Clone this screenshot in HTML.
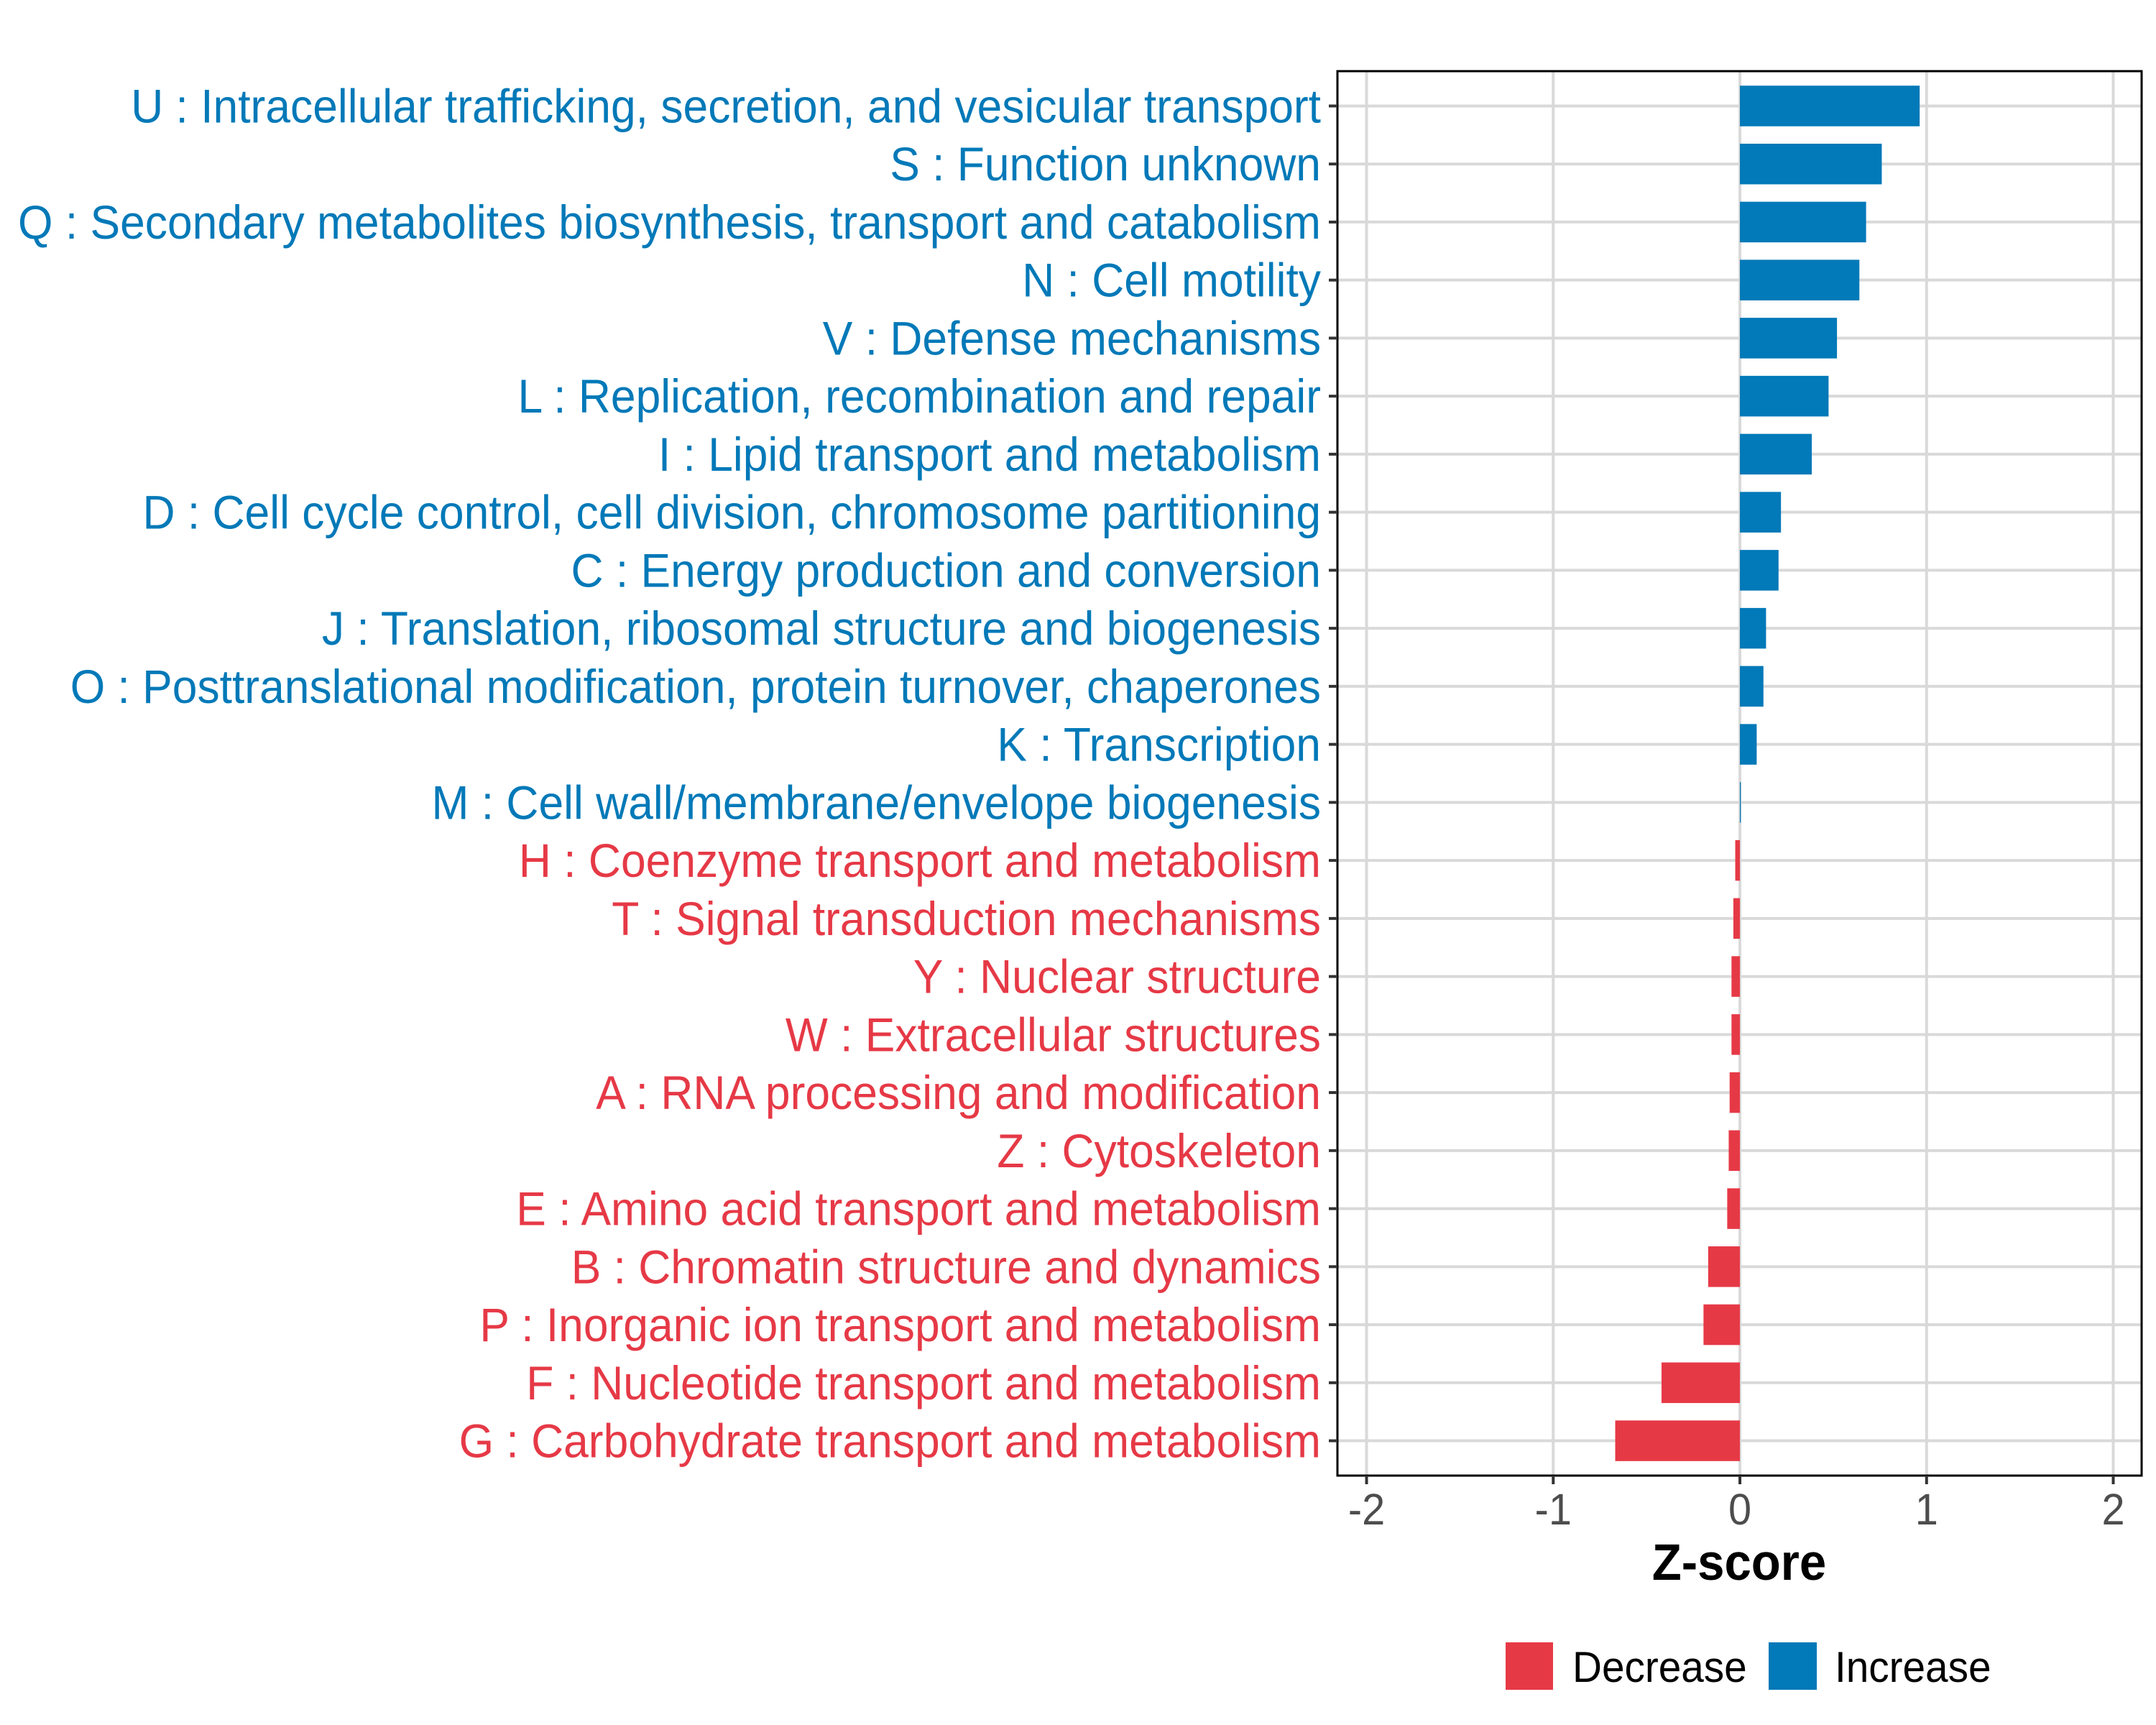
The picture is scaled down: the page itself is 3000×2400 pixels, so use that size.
<!DOCTYPE html>
<html><head><meta charset="utf-8"><style>html,body{margin:0;padding:0;background:#fff}svg{display:block}text{font-family:"Liberation Sans",Arial,sans-serif}</style></head>
<body>
<svg id="chart" width="3000" height="2400" viewBox="0 0 3000 2400" xmlns="http://www.w3.org/2000/svg">
<rect x="0" y="0" width="3000" height="2400" fill="#fff"/>
<g id="grid"></g>
<g id="bars"></g>
<rect x="1861" y="99" width="1119" height="1954" fill="none" stroke="#000" stroke-width="3"/>
<g id="ylabels"></g>
<g id="xaxis"></g>
<text id="xtitle" x="2420" y="2198" font-size="71" font-weight="bold" text-anchor="middle" fill="#000">Z-score</text>
<g>
<rect x="2095" y="2285" width="66" height="66" fill="#E63946"/>
<text x="2188" y="2340" font-size="60" fill="#000">Decrease</text>
<rect x="2461" y="2285" width="67" height="66" fill="#0279B8"/>
<text x="2553" y="2340" font-size="60" fill="#000">Increase</text>
</g>
</svg>
<script>
const categories = [
"U : Intracellular trafficking, secretion, and vesicular transport",
"S : Function unknown",
"Q : Secondary metabolites biosynthesis, transport and catabolism",
"N : Cell motility",
"V : Defense mechanisms",
"L : Replication, recombination and repair",
"I : Lipid transport and metabolism",
"D : Cell cycle control, cell division, chromosome partitioning",
"C : Energy production and conversion",
"J : Translation, ribosomal structure and biogenesis",
"O : Posttranslational modification, protein turnover, chaperones",
"K : Transcription",
"M : Cell wall/membrane/envelope biogenesis",
"H : Coenzyme transport and metabolism",
"T : Signal transduction mechanisms",
"Y : Nuclear structure",
"W : Extracellular structures",
"A : RNA processing and modification",
"Z : Cytoskeleton",
"E : Amino acid transport and metabolism",
"B : Chromatin structure and dynamics",
"P : Inorganic ion transport and metabolism",
"F : Nucleotide transport and metabolism",
"G : Carbohydrate transport and metabolism"];
const zscores = [0.963,0.76,0.676,0.64,0.52,0.475,0.385,0.22,0.207,0.14,0.126,0.09,0.005,-0.025,-0.035,-0.045,-0.045,-0.055,-0.06,-0.068,-0.17,-0.195,-0.42,-0.668];
const xTicks = [-2,-1,0,1,2];
const xTickLabels = ["-2","-1","0","1","2"];

const NS="http://www.w3.org/2000/svg";
const PL=1861, PR=2980, PT=99, PB=2053;
const XMIN=-2.156, XMAX=2.152;
const xs = v => PL + (v-XMIN)/(XMAX-XMIN)*(PR-PL);
const n = categories.length;
const step = (PB-PT)/(n-1+1.2);
const ys = i => PT + step*(0.6+i);
const BLUE="#0279B8", RED="#E63946";
function mk(tag, parent){const e=document.createElementNS(NS,tag);parent.appendChild(e);return e;}

const grid=document.getElementById('grid');
xTicks.forEach((t,i)=>{
  const l=mk('line',grid);
  
  
  l.setAttribute('x1',xs(t));l.setAttribute('x2',xs(t));l.setAttribute('y1',PT);l.setAttribute('y2',PB);
  l.setAttribute('stroke','#d9d9d9');l.setAttribute('stroke-width','4');
});
categories.forEach((c,i)=>{
  const l=mk('line',grid);
  
  
  l.setAttribute('x1',PL);l.setAttribute('x2',PR);l.setAttribute('y1',ys(i));l.setAttribute('y2',ys(i));
  l.setAttribute('stroke','#d9d9d9');l.setAttribute('stroke-width','4');
});

const bars=document.getElementById('bars');
const bh=step*0.7;
zscores.forEach((v,i)=>{
  const r=mk('rect',bars);
  
  
  const x0=xs(0), x1=xs(v);
  r.setAttribute('x',Math.min(x0,x1));r.setAttribute('width',Math.max(Math.abs(x1-x0),1));
  r.setAttribute('y',ys(i)-bh/2);r.setAttribute('height',bh);
  r.setAttribute('fill',v>=0?BLUE:RED);
});

const yl=document.getElementById('ylabels');
const labelEls=[];
categories.forEach((c,i)=>{
  const tk=mk('line',yl);
  
  
  tk.setAttribute('x1',PL-12);tk.setAttribute('x2',PL);tk.setAttribute('y1',ys(i));tk.setAttribute('y2',ys(i));
  tk.setAttribute('stroke','#333');tk.setAttribute('stroke-width','4');
  const t=mk('text',yl);
  
  
  t.setAttribute('x',1838);t.setAttribute('y',ys(i)+23);
  t.setAttribute('font-size','66');t.setAttribute('text-anchor','end');
  t.setAttribute('fill',zscores[i]>=0?BLUE:RED);
  t.textContent=c;
  labelEls.push(t);
});

const xa=document.getElementById('xaxis');
xTicks.forEach((t,i)=>{
  const tk=mk('line',xa);
  
  
  tk.setAttribute('x1',xs(t));tk.setAttribute('x2',xs(t));tk.setAttribute('y1',PB);tk.setAttribute('y2',PB+12);
  tk.setAttribute('stroke','#333');tk.setAttribute('stroke-width','4');
  const tx=mk('text',xa);
  
  
  tx.setAttribute('x',xs(t));tx.setAttribute('y',2121);
  tx.setAttribute('font-size','61');tx.setAttribute('text-anchor','middle');tx.setAttribute('fill','#4d4d4d');
  tx.textContent=xTickLabels[i];
});

// horizontal condensation to match reference text widths
const qw=labelEls[2].getComputedTextLength();
const K = qw>0 ? 1813/qw : 0.93;
document.querySelectorAll('#chart text').forEach(t=>{
  const w=t.getComputedTextLength();
  if(w>0){t.setAttribute('textLength',(w*K).toFixed(1));t.setAttribute('lengthAdjust','spacingAndGlyphs');}
});
</script>
</body></html>
